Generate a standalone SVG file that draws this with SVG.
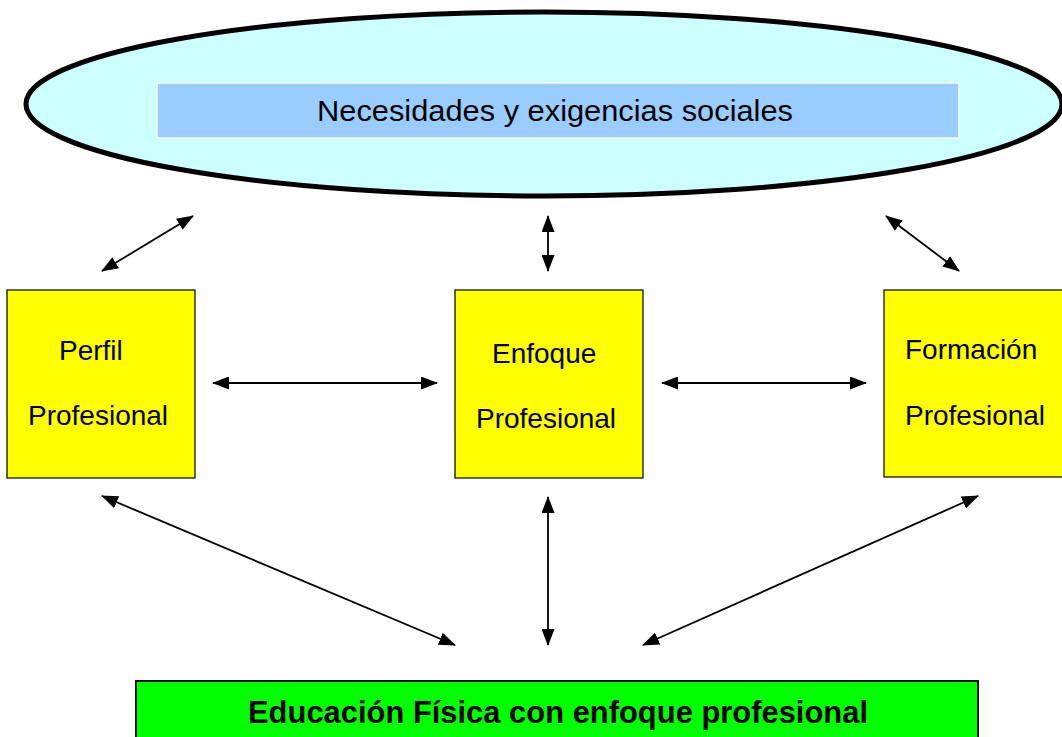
<svg xmlns="http://www.w3.org/2000/svg" width="1062" height="737" viewBox="0 0 1062 737">
<style>
.box{fill:#FFFF00;stroke:#000;stroke-width:1.2}
.t{font-family:"Liberation Sans",Arial,sans-serif;fill:#000}
.c{stroke:#000;stroke-width:1.8;fill:none;marker-start:url(#ah);marker-end:url(#ah)}
</style>
<defs>
<marker id="ah" viewBox="0 0 17 13" refX="16" refY="6.5" markerWidth="17" markerHeight="13" markerUnits="userSpaceOnUse" orient="auto-start-reverse">
<path d="M0,0 L17,6.5 L0,13 z" fill="#000"/>
</marker>
</defs>
<rect width="1062" height="737" fill="#fff"/>
<g id="ellipse">
<ellipse cx="544" cy="104" rx="518" ry="92" fill="#CCFFFF" stroke="#000" stroke-width="5"/>
<rect x="157" y="83" width="802" height="55" fill="#99CCFF" stroke="#fff" stroke-width="1.5"/>
<text class="t" x="317" y="121" font-size="30" textLength="476" lengthAdjust="spacingAndGlyphs">Necesidades y exigencias sociales</text>
</g>
<g id="perfil">
<rect class="box" x="7" y="290" width="188" height="188"/>
<text class="t" x="59" y="360" font-size="28">Perfil</text>
<text class="t" x="28" y="425" font-size="28">Profesional</text>
</g>
<g id="enfoque">
<rect class="box" x="455" y="290" width="188" height="188"/>
<text class="t" x="492" y="363" font-size="28">Enfoque</text>
<text class="t" x="476" y="428" font-size="28">Profesional</text>
</g>
<g id="formacion">
<rect class="box" x="884" y="290" width="190" height="187"/>
<text class="t" x="905" y="359" font-size="28">Formación</text>
<text class="t" x="905" y="425" font-size="28">Profesional</text>
</g>
<g id="educacion">
<rect x="136" y="681" width="842" height="70" fill="#00FF00" stroke="#111" stroke-width="2"/>
<text class="t" x="248" y="723" font-size="30.5" font-weight="bold" textLength="620" lengthAdjust="spacingAndGlyphs">Educación Física con enfoque profesional</text>
</g>
<g id="connectors">
<line class="c" x1="102" y1="271" x2="193" y2="216"/>
<line class="c" x1="548" y1="216" x2="548" y2="271"/>
<line class="c" x1="886" y1="216" x2="959" y2="271"/>
<line class="c" x1="213" y1="383" x2="437" y2="383"/>
<line class="c" x1="662" y1="383" x2="866" y2="383"/>
<line class="c" x1="102" y1="496" x2="455" y2="645"/>
<line class="c" x1="548" y1="497" x2="548" y2="645"/>
<line class="c" x1="643" y1="645" x2="978" y2="496"/>
</g>
</svg>
